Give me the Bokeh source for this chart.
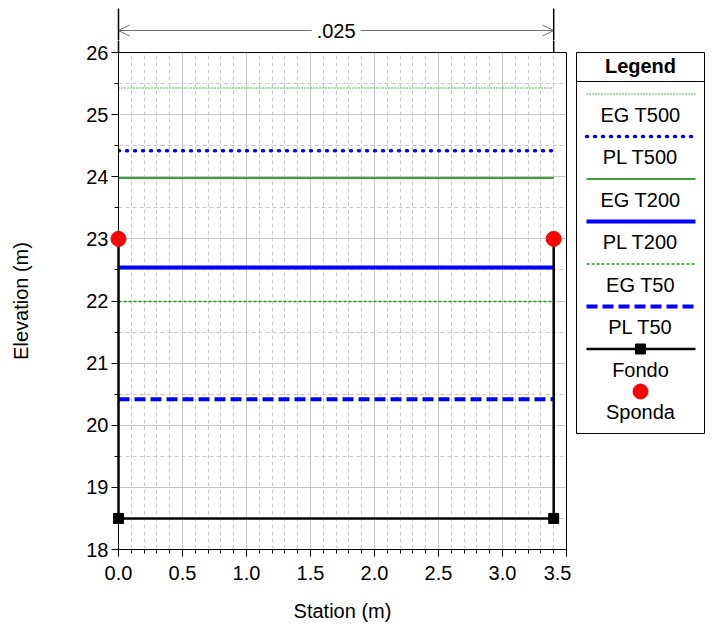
from bokeh.plotting import figure
from bokeh.layouts import gridplot
from bokeh.models import Range1d, Arrow, OpenHead, Label, FixedTicker
from bokeh.embed import file_html
from bokeh.resources import INLINE
from bokeh.core.properties import value

# ---------------- data ----------------
ground_station = [0.0, 0.0, 3.4, 3.4]
ground_elev = [23.0, 18.5, 18.5, 23.0]
bank_station = [0.0, 3.4]
bank_elev = [23.0, 23.0]
profile_names = ["EG T500", "PL T500", "EG T200", "PL T200", "EG T50", "PL T50"]
profile_elev = [25.43, 24.42, 23.98, 22.54, 21.99, 20.42]
profile_station = [0.0, 3.4]
n_label = ".025"
n_station = [0.0, 3.4]
x_ticks = [0.0, 0.5, 1.0, 1.5, 2.0, 2.5, 3.0, 3.5]
x_tick_labels = ["0.0", "0.5", "1.0", "1.5", "2.0", "2.5", "3.0", "3.5"]
x_minor = [0.1, 0.2, 0.3, 0.4, 0.6, 0.7, 0.8, 0.9, 1.1, 1.2, 1.3, 1.4,
           1.6, 1.7, 1.8, 1.9, 2.1, 2.2, 2.3, 2.4, 2.6, 2.7, 2.8, 2.9,
           3.1, 3.2, 3.3, 3.4]
y_ticks = [18, 19, 20, 21, 22, 23, 24, 25, 26]
y_tick_labels = ["18", "19", "20", "21", "22", "23", "24", "25", "26"]
y_minor = [18.5, 19.5, 20.5, 21.5, 22.5, 23.5, 24.5, 25.5]
x_label = "Station (m)"
y_label = "Elevation (m)"
legend_title = "Legend"
ground_name = "Fondo"
bank_name = "Sponda"

# ---------------- styles ----------------
FONT = "Liberation Sans"
GREEN = "#008000"
LGREEN = "#1e9e1e"
BLUE = "#0000ff"
styles = {
    "EG T500": dict(line_color=LGREEN, line_width=1.5, line_dash="1 2"),
    "PL T500": dict(line_color=BLUE, line_width=3.5, line_dash="1 7", line_cap="round"),
    "EG T200": dict(line_color=GREEN, line_width=1.5, line_dash="solid"),
    "PL T200": dict(line_color=BLUE, line_width=4, line_dash="solid"),
    "EG T50": dict(line_color=LGREEN, line_width=1.5, line_dash="3 2"),
    "PL T50": dict(line_color=BLUE, line_width=4, line_dash="11 5"),
}

# ---------------- geometry (page pixels) ----------------
TOP_H = 40          # strip above the main figure
MB_T = 12           # main figure border above its frame
FRAME_TOP = TOP_H + MB_T
MB_L, MB_R = 118, 5
FRAME_W, FRAME_H = 448, 497
MB_B = 80
MAIN_W = MB_L + FRAME_W + MB_R
MAIN_H = MB_T + FRAME_H + MB_B
LEG_W = 142
LEG_X0 = MAIN_W

# ---------------- main figure ----------------
p = figure(width=MAIN_W, height=MAIN_H, output_backend="svg", toolbar_location=None,
           x_range=Range1d(x_ticks[0], x_ticks[-1]), y_range=Range1d(y_ticks[0], y_ticks[-1]),
           min_border_left=MB_L, min_border_right=MB_R, min_border_top=MB_T,
           min_border_bottom=MB_B, background_fill_color="white",
           border_fill_color="white", outline_line_color="black")

p.xaxis.ticker = FixedTicker(ticks=x_ticks, minor_ticks=x_minor)
p.yaxis.ticker = FixedTicker(ticks=y_ticks, minor_ticks=y_minor)
p.xgrid.ticker = FixedTicker(ticks=x_ticks, minor_ticks=x_minor)
p.ygrid.ticker = FixedTicker(ticks=y_ticks, minor_ticks=y_minor)
p.xaxis.major_label_overrides = {t: s for t, s in zip(x_ticks, x_tick_labels)}
p.yaxis.major_label_overrides = {t: s for t, s in zip(y_ticks, y_tick_labels)}
p.xaxis.axis_label = x_label
p.yaxis.axis_label = y_label

for ax in (p.xaxis[0], p.yaxis[0]):
    ax.major_tick_in = 0
    ax.major_tick_out = 7
    ax.minor_tick_in = 0
    ax.minor_tick_out = 4
    ax.axis_line_color = "black"
    ax.major_tick_line_color = "black"
    ax.minor_tick_line_color = "black"
    ax.major_label_text_font = FONT
    ax.major_label_text_font_size = "20px"
    ax.major_label_text_color = "black"
    ax.axis_label_text_font = FONT
    ax.axis_label_text_font_size = "20px"
    ax.axis_label_text_font_style = "normal"
    ax.axis_label_text_color = "black"
p.xaxis.major_label_standoff = 9
p.yaxis.major_label_standoff = 3
p.xaxis.axis_label_standoff = 17
p.yaxis.axis_label_standoff = 51

for g in (p.xgrid[0], p.ygrid[0]):
    g.grid_line_color = "#c8c8c8"
    g.grid_line_width = 1
    g.minor_grid_line_color = "#c8c8c8"
    g.minor_grid_line_dash = "4 3"
    g.minor_grid_line_width = 1

for name, elev in zip(profile_names, profile_elev):
    p.line(profile_station, [elev, elev], **styles[name])

p.line(ground_station, ground_elev, line_color="black", line_width=2.5, level="overlay")
p.scatter(ground_station, ground_elev, marker="square", size=10, color="black", level="overlay")
p.scatter(bank_station, bank_elev, marker="circle", size=15, color="red", level="overlay")

# vertical limits of the n-value reach, continuing above the frame top
y_span = y_ticks[-1] - y_ticks[0]
y_above = y_ticks[-1] + MB_T * y_span / FRAME_H
for xs in n_station:
    p.line([xs, xs], [y_ticks[-1], y_above], line_color="black", line_width=1.5,
           level="overlay")

# ---------------- strip above the plot: Manning's n ----------------
top = figure(width=MAIN_W, height=TOP_H, output_backend="svg", toolbar_location=None,
             x_range=Range1d(x_ticks[0], x_ticks[-1]), y_range=Range1d(TOP_H, 0),
             x_axis_location=None, y_axis_location=None,
             min_border_left=MB_L, min_border_right=MB_R, min_border_top=0,
             min_border_bottom=0, outline_line_color=None,
             background_fill_color="white", border_fill_color="white")
top.grid.visible = False
for xs in n_station:
    top.line([xs, xs], [8, TOP_H], line_color="black", line_width=1.5, level="overlay")
top.add_layout(Arrow(start=OpenHead(size=11, line_color="#707070", line_width=1),
                     end=OpenHead(size=11, line_color="#707070", line_width=1),
                     x_start=n_station[0], y_start=30, x_end=n_station[1], y_end=30,
                     line_color="#707070", line_width=1))
top.add_layout(Label(x=sum(n_station) / 2, y=30, text=n_label, text_align="center",
                     text_baseline="middle", text_font=FONT, text_font_size="20px",
                     text_color="black", background_fill_color="white", padding=5))

# ---------------- legend figure ----------------
lg = figure(width=LEG_W, height=MAIN_H, output_backend="svg", toolbar_location=None,
            x_range=Range1d(LEG_X0, LEG_X0 + LEG_W),
            y_range=Range1d(FRAME_TOP + FRAME_H, FRAME_TOP),
            x_axis_location=None, y_axis_location=None,
            min_border_left=0, min_border_right=0,
            min_border_top=MB_T, min_border_bottom=MB_B,
            outline_line_color=None, background_fill_color="white",
            border_fill_color="white")
lg.grid.visible = False

box_l, box_r, box_t, box_b = 576, 704, 52, 433
cx = (box_l + box_r) / 2
lg.quad(left=[box_l], right=[box_r], top=[box_t], bottom=[box_b],
        fill_color=None, line_color="black", line_width=1, level="overlay")
lg.line([box_l, box_r], [81, 81], line_color="black", line_width=1)
lg.text([cx], [65], text=[legend_title], text_align="center", text_baseline="middle",
        text_font=value(FONT), text_font_size="20px", text_font_style="bold",
        text_color="black")

step = 42.5
x0, x1 = 586, 695
names_all = profile_names + [ground_name, bank_name]
for i, name in enumerate(names_all):
    ly = 93.5 + step * i
    ty = 114 + step * i
    if name in styles:
        lg.line([x0, x1], [ly, ly], **styles[name])
    elif name == ground_name:
        lg.line([x0, x1], [ly, ly], line_color="black", line_width=2.5)
        lg.scatter([cx], [ly], marker="square", size=10, color="black")
    else:
        lg.scatter([cx], [ly], marker="circle", size=15, color="red")
    lg.text([cx], [ty], text=[name], text_align="center", text_baseline="middle",
            text_font=value(FONT), text_font_size="20px", text_color="black")

layout = gridplot([[top, None], [p, lg]], toolbar_location=None)
open("out.html", "w").write(file_html(layout, INLINE))
